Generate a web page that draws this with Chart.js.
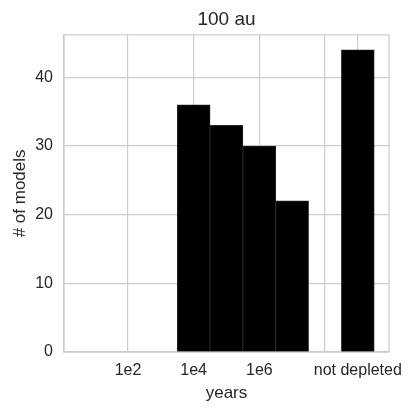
<!DOCTYPE html>
<html lang="en">
<head>
  <meta charset="UTF-8">
  <title>100 au</title>
  <script src="https://cdn.jsdelivr.net/npm/chart.js"></script>
  <style>
    html, body { margin: 0; padding: 0; background: #fff; }
    #wrap { width: 415px; height: 415px; }
  </style>
</head>
<body>
  <div id="wrap">
    <canvas id="histChart" width="415" height="415"></canvas>
  </div>

  <script>
    // bin centres on the log10(years) axis, 9 = "not depleted"
    const binCenters = [4, 5, 6, 7, 9];
    const modelCounts = [36, 33, 30, 22, 44];

    // x tick positions and their labels
    const xTickValues = [2, 4, 6, 8, 9];
    const xTickLabels = ['1e2', '1e4', '1e6', '', 'not depleted'];

    const yTickStep = 10;

    const textColor = '#262626';
    const gridColor = '#cccccc';
    const fontFamily = '"Liberation Sans", Arial, sans-serif';

    // draw the full frame around the plot area (seaborn whitegrid spines)
    const frame = {
      id: 'frame',
      beforeDatasetsDraw(chart) {
        const a = chart.chartArea;
        const ctx = chart.ctx;
        ctx.save();
        ctx.strokeStyle = gridColor;
        ctx.lineWidth = 1.2;
        ctx.strokeRect(a.left, a.top, a.right - a.left, a.bottom - a.top);
        ctx.restore();
      }
    };

    const points = binCenters.map((x, i) => ({ x: x, y: modelCounts[i] }));

    const ctx = document.getElementById('histChart').getContext('2d');
    new Chart(ctx, {
      type: 'bar',
      data: {
        datasets: [{
          data: points,
          backgroundColor: '#000000',
          borderColor: '#2a2a2a',
          borderWidth: 0.8,
          barPercentage: 1,
          categoryPercentage: 1
        }]
      },
      options: {
        responsive: false,
        animation: false,
        devicePixelRatio: 1,
        layout: { padding: { left: 6, right: 26, top: 0, bottom: 7 } },
        plugins: {
          legend: { display: false },
          tooltip: { enabled: false },
          title: {
            display: true,
            text: '100 au',
            fullSize: false,
            color: textColor,
            font: { family: fontFamily, size: 19, weight: 'normal' },
            padding: { top: 8, bottom: 4 }
          }
        },
        scales: {
          x: {
            type: 'linear',
            min: 0.05,
            max: 9.95,
            offset: false,
            grid: { color: gridColor, lineWidth: 1.2, drawTicks: false, offset: false },
            border: { color: gridColor, width: 1.2 },
            afterBuildTicks: scale => {
              scale.ticks = xTickValues.map(v => ({ value: v }));
            },
            afterFit: scale => { scale.height = 56; },
            ticks: {
              autoSkip: false,
              maxRotation: 0,
              padding: 9,
              color: textColor,
              font: { family: fontFamily, size: 16 },
              callback: value => {
                const i = xTickValues.indexOf(value);
                return i >= 0 ? xTickLabels[i] : '';
              }
            },
            title: {
              display: true,
              text: 'years',
              color: textColor,
              font: { family: fontFamily, size: 17 },
              padding: { top: 4, bottom: 4 }
            }
          },
          y: {
            min: 0,
            max: 46.2,
            grid: { color: gridColor, lineWidth: 1.2, drawTicks: false },
            border: { color: gridColor, width: 1.2 },
            afterFit: scale => { scale.width = 58; },
            ticks: {
              stepSize: yTickStep,
              includeBounds: false,
              padding: 11,
              color: textColor,
              font: { family: fontFamily, size: 16 }
            },
            title: {
              display: true,
              text: '# of models',
              color: textColor,
              font: { family: fontFamily, size: 17 },
              padding: { top: 4, bottom: 4 }
            }
          }
        }
      },
      plugins: [frame]
    });
  </script>
</body>
</html>
